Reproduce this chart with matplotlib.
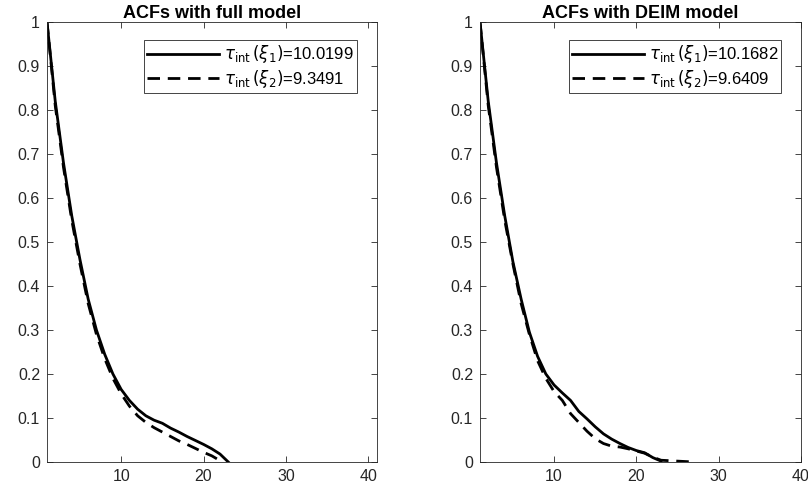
import matplotlib
matplotlib.use("Agg")
import matplotlib.pyplot as plt

# ── data: ACF values at integer lags ──────────────────────────────────────────
lags_full_1 = list(range(1, 24))
acf_full_1 = [1.0, 0.82, 0.68, 0.56, 0.46, 0.37, 0.30, 0.245, 0.20, 0.165,
              0.14, 0.12, 0.105, 0.095, 0.088, 0.077, 0.068, 0.058, 0.049,
              0.040, 0.030, 0.018, 0.0]
lags_full_2 = list(range(1, 23))
acf_full_2 = [1.0, 0.81, 0.67, 0.55, 0.45, 0.36, 0.29, 0.235, 0.19, 0.155,
              0.127, 0.105, 0.09, 0.078, 0.068, 0.058, 0.048, 0.040, 0.031,
              0.022, 0.014, 0.003]

lags_deim_1 = list(range(1, 24))
acf_deim_1 = [1.0, 0.82, 0.68, 0.56, 0.455, 0.37, 0.295, 0.24, 0.20, 0.175,
              0.157, 0.14, 0.115, 0.098, 0.080, 0.064, 0.052, 0.042, 0.033,
              0.026, 0.021, 0.010, 0.002]
lags_deim_2 = list(range(1, 28))
acf_deim_2 = [1.0, 0.81, 0.67, 0.55, 0.45, 0.36, 0.29, 0.23, 0.19, 0.16,
              0.14, 0.11, 0.09, 0.07, 0.053, 0.042, 0.036, 0.034, 0.030,
              0.025, 0.020, 0.011, 0.004, 0.003, 0.002, 0.001, 0.0]

tau_labels_full = ["10.0199", "9.3491"]
tau_labels_deim = ["10.1682", "9.6409"]
titles = ["ACFs with full model", "ACFs with DEIM model"]
xmax = [41, 40]
yticks = [i / 10 for i in range(11)]
ytick_labels = ["0"] + [f"{v:.1f}" for v in yticks[1:-1]] + ["1"]

plt.rcParams["font.family"] = ["Liberation Sans", "DejaVu Sans"]
plt.rcParams["mathtext.fontset"] = "dejavusans"

AX_COLOR = "#262626"

fig = plt.figure(figsize=(8.08, 4.91), dpi=100)
ax1 = fig.add_axes([47 / 808, 29 / 491, 329.6 / 808, 440 / 491])
ax2 = fig.add_axes([480 / 808, 29 / 491, 321 / 808, 440 / 491])

panels = [
    (ax1, lags_full_1, acf_full_1, lags_full_2, acf_full_2, tau_labels_full),
    (ax2, lags_deim_1, acf_deim_1, lags_deim_2, acf_deim_2, tau_labels_deim),
]

for i, (ax, x1, y1, x2, y2, taus) in enumerate(panels):
    ax.plot(x1, y1, color="black", lw=2.0,
            label=r"$\tau_{\rm int}\,(\xi_1)$=" + taus[0])
    ax.plot(x2, y2, color="black", lw=2.0, ls=(0, (4.5, 2.8)),
            label=r"$\tau_{\rm int}\,(\xi_2)$=" + taus[1])
    ax.set_xlim(1, xmax[i])
    ax.set_ylim(0, 1)
    ax.set_xticks([10, 20, 30, 40])
    ax.set_yticks(yticks)
    ax.set_yticklabels(ytick_labels)
    ax.tick_params(direction="in", top=True, right=True, length=4,
                   width=0.6, colors=AX_COLOR, labelsize=11.5, pad=5)
    for sp in ax.spines.values():
        sp.set_color(AX_COLOR)
        sp.set_linewidth(0.6)
    ax.set_title(titles[i], fontsize=13, fontweight="bold", pad=3)
    leg = ax.legend(loc="upper right", fontsize=12, handlelength=4.3,
                    fancybox=False, framealpha=1, borderpad=0.2,
                    labelspacing=0.15, handletextpad=0.3,
                    bbox_to_anchor=(0.965, 0.978))
    leg.get_frame().set_edgecolor(AX_COLOR)
    leg.get_frame().set_linewidth(0.6)

fig.savefig("out.png", dpi=100)
